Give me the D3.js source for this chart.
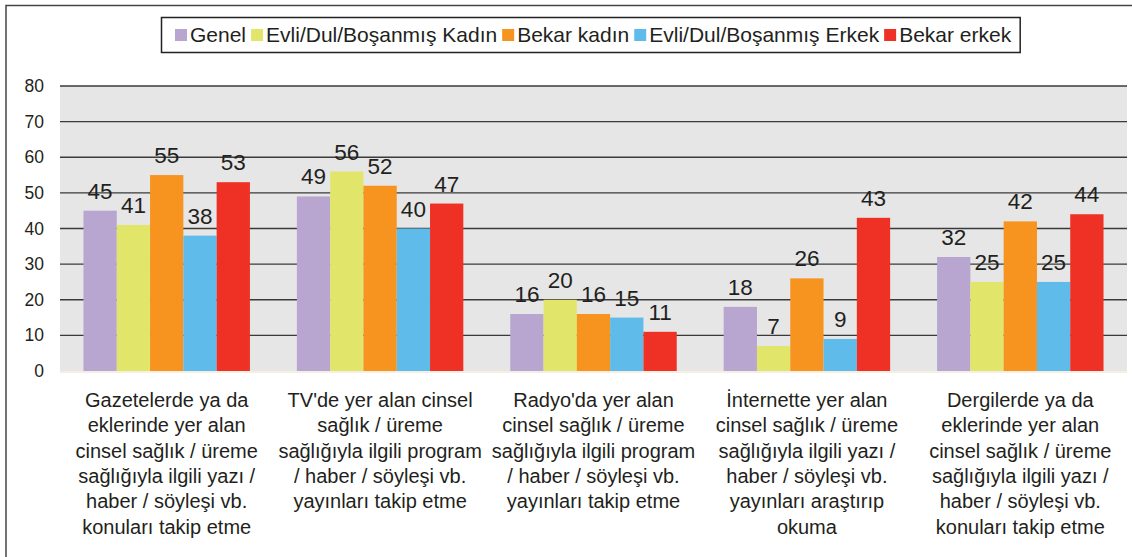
<!DOCTYPE html>
<html>
<head>
<meta charset="utf-8">
<script src="https://cdn.jsdelivr.net/npm/d3@7"></script>
<style>
  body { margin: 0; background: #fff; }
  svg { display: block; font-family: "Liberation Sans", Arial, sans-serif; }
</style>
</head>
<body>
<svg id="chart" width="1132" height="557"></svg>
<script>
// veriler
var categories = [
    ["Gazetelerde ya da", "eklerinde yer alan", "cinsel sağlık / üreme", "sağlığıyla ilgili yazı /", "haber / söyleşi vb.", "konuları takip etme"],
    ["TV'de yer alan cinsel", "sağlık / üreme", "sağlığıyla ilgili program", "/ haber / söyleşi vb.", "yayınları takip etme"],
    ["Radyo'da yer alan", "cinsel sağlık / üreme", "sağlığıyla ilgili program", "/ haber / söyleşi vb.", "yayınları takip etme"],
    ["İnternette yer alan", "cinsel sağlık / üreme", "sağlığıyla ilgili yazı /", "haber / söyleşi vb.", "yayınları araştırıp", "okuma"],
    ["Dergilerde ya da", "eklerinde yer alan", "cinsel sağlık / üreme", "sağlığıyla ilgili yazı /", "haber / söyleşi vb.", "konuları takip etme"]
];
var series = ["Genel", "Evli/Dul/Boşanmış Kadın", "Bekar kadın", "Evli/Dul/Boşanmış Erkek", "Bekar erkek"];
var genel = [45, 49, 16, 18, 32];
var evliKadin = [41, 56, 20, 7, 25];
var bekarKadin = [55, 52, 16, 26, 42];
var evliErkek = [38, 40, 15, 9, 25];
var bekarErkek = [53, 47, 11, 43, 44];
var yTicks = [0, 10, 20, 30, 40, 50, 60, 70, 80];
var colors = ["#b8a6d0", "#e1e66a", "#f7941f", "#5fbbe9", "#ee3124"];

var values = [genel, evliKadin, bekarKadin, evliErkek, bekarErkek];

var svg = d3.select("#chart");
var textColor = "#231f20";

// dış çerçeve
svg.append("path")
    .attr("d", "M6,560 L6,5.5 L1140,5.5")
    .attr("fill", "none")
    .attr("stroke", "#444")
    .attr("stroke-width", 1.5);

var pLeft = 60, pRight = 1127, pTop = 86, pBottom = 371;

var y = d3.scaleLinear().domain([0, 80]).range([pBottom, pTop]);
var x0 = d3.scaleBand()
    .domain(d3.range(categories.length))
    .range([pLeft, pRight])
    .paddingInner(0.22)
    .paddingOuter(0.11);
var x1 = d3.scaleBand()
    .domain(d3.range(series.length))
    .range([0, x0.bandwidth()]);

// arka plan
svg.append("rect")
    .attr("x", pLeft).attr("y", pTop)
    .attr("width", pRight - pLeft).attr("height", pBottom - pTop)
    .attr("fill", "#e6e6e6");

// grid çizgileri
svg.append("g")
    .selectAll("line")
    .data(yTicks.slice(1))
    .join("line")
    .attr("x1", pLeft).attr("x2", pRight)
    .attr("y1", d => y(d)).attr("y2", d => y(d))
    .attr("stroke", "#3a3a3a")
    .attr("stroke-width", 1.3);

// y ekseni
var yAxis = svg.append("g")
    .attr("transform", "translate(" + pLeft + ",0)")
    .call(d3.axisLeft(y).tickValues(yTicks).tickSize(0).tickPadding(16));
yAxis.select(".domain").remove();
yAxis.selectAll("text")
    .attr("font-size", 17.5)
    .attr("fill", textColor)
    .attr("font-family", "Liberation Sans, Arial, sans-serif");

// çubuklar
var groups = svg.append("g")
    .selectAll("g")
    .data(categories)
    .join("g")
    .attr("transform", (d, i) => "translate(" + x0(i) + ",0)");

groups.selectAll("rect")
    .data((d, i) => series.map((s, j) => ({ s: j, v: values[j][i] })))
    .join("rect")
    .attr("x", d => x1(d.s))
    .attr("y", d => y(d.v))
    .attr("width", x1.bandwidth())
    .attr("height", d => pBottom - y(d.v))
    .attr("fill", d => colors[d.s]);

groups.selectAll("text")
    .data((d, i) => series.map((s, j) => ({ s: j, v: values[j][i] })))
    .join("text")
    .attr("x", d => x1(d.s) + x1.bandwidth() / 2)
    .attr("y", d => y(d.v) - 12)
    .attr("text-anchor", "middle")
    .attr("font-size", 22.5)
    .attr("fill", textColor)
    .text(d => d.v);

// x ekseni çizgisi
svg.append("line")
    .attr("x1", pLeft).attr("x2", pRight)
    .attr("y1", pBottom + 1).attr("y2", pBottom + 1)
    .attr("stroke", "#f3efe2")
    .attr("stroke-width", 2);

// kategori etiketleri
var catLabels = svg.append("g")
    .selectAll("text")
    .data(categories)
    .join("text")
    .attr("text-anchor", "middle")
    .attr("font-size", 20)
    .attr("fill", textColor);

catLabels.selectAll("tspan")
    .data((d, i) => d.map(line => ({ line: line, i: i })))
    .join("tspan")
    .attr("x", d => x0(d.i) + x0.bandwidth() / 2)
    .attr("y", (d, k) => 407 + k * 25.3)
    .text(d => d.line);

// lejant
var legend = svg.append("g");
var legBox = legend.append("rect")
    .attr("x", 161.5).attr("y", 17.5)
    .attr("height", 35)
    .attr("fill", "#fff")
    .attr("stroke", "#222")
    .attr("stroke-width", 1.5);

var lx = 175;
series.forEach(function (s, i) {
    legend.append("rect")
        .attr("x", lx).attr("y", 29)
        .attr("width", 12).attr("height", 12)
        .attr("fill", colors[i]);
    var t = legend.append("text")
        .attr("x", lx + 15).attr("y", 42)
        .attr("font-size", 21)
        .attr("fill", textColor)
        .text(s);
    lx = lx + 15 + t.node().getComputedTextLength() + 5;
});
legBox.attr("width", lx + 4 - 161.5);
</script>
</body>
</html>
